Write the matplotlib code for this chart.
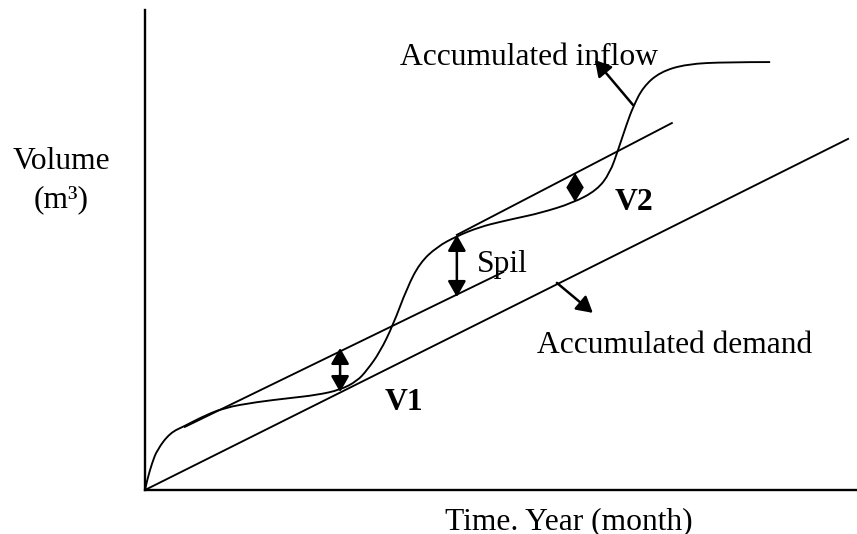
"""Rippl mass curve: accumulated inflow vs accumulated demand."""
import matplotlib
matplotlib.use('Agg')
import matplotlib.pyplot as plt
from matplotlib.path import Path
from matplotlib.patches import PathPatch

plt.rcParams['font.family'] = ['Liberation Serif', 'DejaVu Serif']

# ------------------------------------------------------------------
# Curve data (time units on x, volume units on y)
# ------------------------------------------------------------------
inflow_t = [0.00, 0.06, 0.20, 0.34, 0.70, 1.12, 1.54, 2.19, 3.15, 4.07,
            4.83, 5.48, 5.96, 6.24, 6.60, 6.97, 7.36, 7.72, 8.20, 8.76,
            9.41, 9.97, 10.45, 11.10, 12.02, 12.70, 13.06, 13.29, 13.54,
            13.71, 13.99, 14.47, 15.22, 16.35, 17.56]
inflow_v = [0.00, 0.42, 1.13, 1.67, 2.38, 2.67, 3.00, 3.42, 3.67, 3.83,
            3.96, 4.17, 4.54, 5.00, 5.75, 6.88, 8.42, 9.46, 10.13, 10.58,
            10.96, 11.17, 11.33, 11.54, 11.96, 12.50, 13.21, 14.17, 15.29,
            15.96, 16.79, 17.42, 17.75, 17.83, 17.83]

demand_t = [0.0, 19.75]
demand_v = [0.0, 14.63]

tangent1_t = [1.12, 10.06]
tangent1_v = [2.63, 9.08]
tangent2_t = [8.76, 14.80]
tangent2_v = [10.63, 15.29]

# storage / spill arrows: (t, v_low, v_high)
v1_arrow = (5.48, 4.08, 5.92)
spil_arrow = (8.76, 8.04, 10.63)
v2_arrow = (12.08, 12.00, 13.21)

# label pointers: (from, to)
inflow_ptr = ((13.71, 16.04), (12.64, 17.92))
demand_ptr = ((11.57, 8.63), (12.58, 7.38))

fig = plt.figure(figsize=(8.57, 5.34), dpi=100)
ax = fig.add_axes([145 / 857, 44 / 534, 712 / 857, 480 / 534])
ax.set_xlim(0, 20)
ax.set_ylim(0, 20)
for side in ['top', 'right']:
    ax.spines[side].set_visible(False)
for side in ['left', 'bottom']:
    ax.spines[side].set_linewidth(1.7)
ax.set_xticks([])
ax.set_yticks([])

lw = 1.35

# smooth inflow curve: read points used as quadratic bezier controls
pts = list(zip(inflow_t, inflow_v))
verts = [pts[0]]
codes = [Path.MOVETO]
for i in range(1, len(pts) - 1):
    if i == len(pts) - 2:
        end = pts[-1]
    else:
        end = ((pts[i][0] + pts[i + 1][0]) / 2, (pts[i][1] + pts[i + 1][1]) / 2)
    verts += [pts[i], end]
    codes += [Path.CURVE3, Path.CURVE3]
ax.add_patch(PathPatch(Path(verts, codes), fill=False, edgecolor='black', lw=lw))

ax.plot(demand_t, demand_v, color='black', lw=lw)
ax.plot(tangent1_t, tangent1_v, color='black', lw=lw)
ax.plot(tangent2_t, tangent2_v, color='black', lw=lw)

dbl = dict(arrowstyle='<|-|>,head_length=0.6,head_width=0.34',
           mutation_scale=16, color='black', lw=1.8, shrinkA=0, shrinkB=0)
for t, lo, hi in [v1_arrow, spil_arrow]:
    ax.annotate('', xy=(t, hi), xytext=(t, lo), arrowprops=dbl)

# V2 gap is short: the two heads meet and form a diamond
diamond = dict(arrowstyle='<|-|>,head_length=0.6,head_width=0.36',
               mutation_scale=15, color='black', lw=1.4, shrinkA=0, shrinkB=0)
ax.annotate('', xy=(v2_arrow[0], v2_arrow[2]), xytext=(v2_arrow[0], v2_arrow[1]),
            arrowprops=diamond)

one = dict(arrowstyle='-|>,head_length=0.6,head_width=0.34',
           mutation_scale=16, color='black', lw=1.8, shrinkA=0, shrinkB=0)
for start, end in [inflow_ptr, demand_ptr]:
    ax.annotate('', xy=end, xytext=start, arrowprops=one)

fs = 22.7
ax.text(7.16, 17.71, 'Accumulated inflow', fontsize=fs, va='baseline')
ax.text(11.01, 5.71, 'Accumulated demand', fontsize=fs, va='baseline')
ax.text(9.33, 9.08, 'Spil', fontsize=fs, va='baseline')
ax.text(6.74, 3.33, 'V1', fontsize=fs, fontweight='bold', va='baseline')
ax.text(13.20, 11.67, 'V2', fontsize=fs, fontweight='bold', va='baseline')
ax.text(-2.36, 13.375, 'Volume', fontsize=fs, ha='center', va='baseline')
ax.text(-2.36, 11.79, '(m³)', fontsize=fs, ha='center', va='baseline')
ax.text(8.43, -1.625, 'Time. Year (month)', fontsize=fs, va='baseline')

plt.savefig('out.png', dpi=100)
